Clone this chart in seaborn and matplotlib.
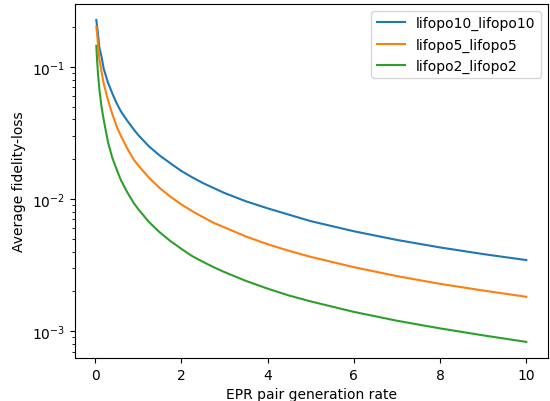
import pandas as pd
import matplotlib
matplotlib.use("Agg")
import matplotlib.pyplot as plt
import seaborn as sns

# ====== Data ======
rate = [0.03, 0.05, 0.07, 0.1, 0.15, 0.2, 0.3, 0.4, 0.5, 0.6, 0.75, 0.9, 1.0,
        1.25, 1.5, 1.75, 2.0, 2.25, 2.5, 2.75, 3.0, 3.5, 4.0, 4.5, 5.0, 6.0,
        7.0, 8.0, 9.0, 10.0]

loss_lifopo10 = [0.226, 0.200, 0.175, 0.140, 0.120, 0.097, 0.076, 0.063, 0.053,
                 0.046, 0.039, 0.0335, 0.0305, 0.0250, 0.0213, 0.0186, 0.0163,
                 0.0146, 0.0132, 0.0121, 0.0111, 0.0096, 0.0085, 0.0076, 0.0068,
                 0.0057, 0.0049, 0.0043, 0.00383, 0.00345]
loss_lifopo5 = [0.201, 0.175, 0.148, 0.115, 0.092, 0.075, 0.056, 0.044, 0.0355,
                0.030, 0.0240, 0.0198, 0.0180, 0.0145, 0.0121, 0.0104, 0.0091,
                0.0081, 0.0073, 0.0066, 0.0061, 0.0052, 0.00455, 0.00405,
                0.00365, 0.00305, 0.00261, 0.00228, 0.00203, 0.00182]
loss_lifopo2 = [0.144, 0.110, 0.088, 0.068, 0.050, 0.040, 0.027, 0.0205, 0.0168,
                0.0139, 0.0112, 0.0093, 0.0084, 0.0067, 0.0056, 0.0048, 0.0042,
                0.0037, 0.00335, 0.00305, 0.0028, 0.0024, 0.0021, 0.00186,
                0.00168, 0.0014, 0.0012, 0.00105, 0.00093, 0.00083]

labels = ["lifopo10_lifopo10", "lifopo5_lifopo5", "lifopo2_lifopo2"]

# ====== Long format ======
frames = []
for label, vals in zip(labels, [loss_lifopo10, loss_lifopo5, loss_lifopo2]):
    frames.append(pd.DataFrame({"rate": rate, "loss": vals, "config": label}))
df = pd.concat(frames, ignore_index=True)

# ====== Plot ======
fig, ax = plt.subplots(figsize=(5.5, 4.02), dpi=100)
sns.lineplot(data=df, x="rate", y="loss", hue="config", hue_order=labels,
             palette=["#1f77b4", "#ff7f0e", "#2ca02c"], linewidth=1.5, ax=ax)
ax.set_yscale("log")
ax.set_xticks([0, 2, 4, 6, 8, 10])
ax.set_xlabel("EPR pair generation rate")
ax.set_ylabel("Average fidelity-loss")
ax.legend(loc="upper right", title=None)
fig.subplots_adjust(left=0.136, right=0.996, bottom=0.107, top=0.988)
fig.savefig("out.png")
